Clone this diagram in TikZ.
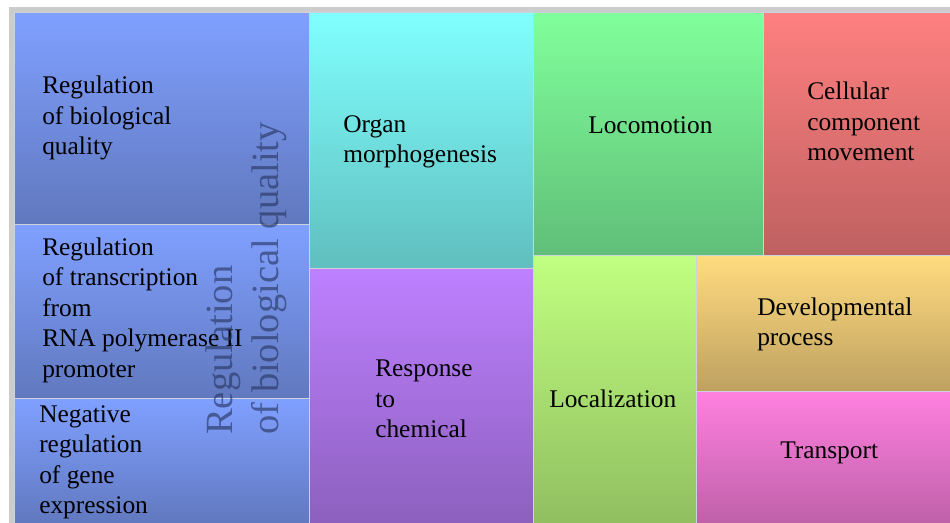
\documentclass[tikz,border=0pt]{standalone}
\usepackage{fontspec}
\setmainfont{Liberation Serif}
\definecolor{frame}{RGB}{204,204,204}
\definecolor{sep}{RGB}{205,210,220}
\definecolor{blueT}{RGB}{128,160,255}\definecolor{blueB}{RGB}{96,120,190}
\definecolor{cyanT}{RGB}{128,255,255}\definecolor{cyanB}{RGB}{96,190,190}
\definecolor{greenT}{RGB}{128,255,155}\definecolor{greenB}{RGB}{96,190,120}
\definecolor{redT}{RGB}{255,128,128}\definecolor{redB}{RGB}{190,96,96}
\definecolor{purpT}{RGB}{190,128,255}\definecolor{purpB}{RGB}{140,96,190}
\definecolor{limeT}{RGB}{192,255,128}\definecolor{limeB}{RGB}{144,190,96}
\definecolor{oranT}{RGB}{255,220,128}\definecolor{oranB}{RGB}{190,160,96}
\definecolor{pinkT}{RGB}{255,128,224}\definecolor{pinkB}{RGB}{190,96,168}
\definecolor{overlay}{RGB}{40,55,100}
\tikzset{
  cell/.style={draw=sep, line width=0.75pt},
  label/.style={anchor=base west, inner sep=0pt, align=left, text=black,
    font=\fontsize{19.05pt}{22.95pt}\selectfont},
  bigtext/.style={anchor=base west, inner sep=0pt, align=left, rotate=90,
    text=overlay, text opacity=0.65,
    font=\fontsize{28.9pt}{34.5pt}\selectfont},
}
\begin{document}
\begin{tikzpicture}[x=0.75pt,y=-0.75pt]
\useasboundingbox (0,0) rectangle (950,523);
\clip (0,0) rectangle (950,523);
\fill[white] (0,0) rectangle (950,523);
\fill[frame] (9,7) rectangle (960,530);
% cells
\path[cell, top color=blueT, bottom color=blueB] (14,13) rectangle (309,225);
\path[cell, top color=blueT, bottom color=blueB] (14,225) rectangle (309,399);
\path[cell, top color=blueT, bottom color=blueB] (14,399) rectangle (309,525);
\path[cell, top color=cyanT, bottom color=cyanB] (309,13) rectangle (533,269);
\path[cell, top color=purpT, bottom color=purpB] (309,269) rectangle (533,525);
\path[cell, top color=greenT, bottom color=greenB] (533,13) rectangle (763,256);
\path[cell, top color=redT, bottom color=redB] (763,13) rectangle (960,256);
\path[cell, top color=limeT, bottom color=limeB] (533,256) rectangle (696,525);
\path[cell, top color=oranT, bottom color=oranB] (696,256) rectangle (960,392);
\path[cell, top color=pinkT, bottom color=pinkB] (696,392) rectangle (960,525);
% labels (anchored at the baseline of their last line)
\node[label] (rbq) at (42,155) {Regulation\\of biological\\quality};
\node[label] (rtr) at (42,377.5) {Regulation\\of transcription\\from\\RNA polymerase II\\promoter};
\node[label] (nrg) at (39,514) {Negative\\regulation\\of gene\\expression};
\node[label] (org) at (343,163) {Organ\\morphogenesis};
\node[label] (rsp) at (375,438) {Response\\to\\chemical};
\node[label] (loc) at (588,134) {Locomotion};
\node[label] (ccm) at (807,161) {Cellular\\component\\movement};
\node[label] (lcz) at (549,408) {Localization};
\node[label] (dev) at (757,346) {Developmental\\process};
\node[label] (trn) at (780,459) {Transport};
\node[bigtext] (big) at (278,435) {Regulation\\of biological quality};
\end{tikzpicture}
\end{document}
